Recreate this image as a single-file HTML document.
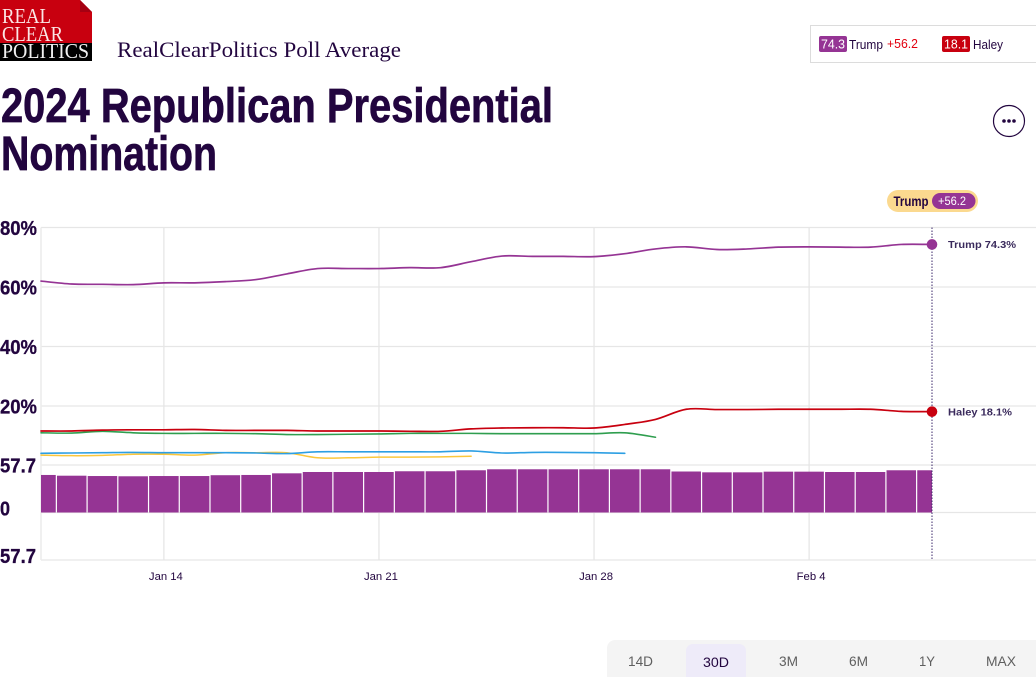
<!DOCTYPE html>
<html lang="en">
<head>
<meta charset="utf-8">
<title>2024 Republican Presidential Nomination</title>
<style>
html,body{margin:0;padding:0;background:#fff;width:1036px;height:677px;overflow:hidden}
svg{display:block}
text{font-family:"Liberation Sans",sans-serif}
.serif{font-family:"Liberation Serif",serif}
.tab{font-size:14px;fill:#5f5f5f}
</style>
</head>
<body>
<svg id="page" xmlns="http://www.w3.org/2000/svg" width="1036" height="677" viewBox="0 0 1036 677">
  <g>
    <rect x="0" y="0" width="92" height="43" fill="#c8000f"/>
    <rect x="0" y="43" width="92" height="18" fill="#000"/>
    <polygon points="80,0 92,0 92,12" fill="#fff"/>
    <polygon points="80,0 92,12 80,12" fill="#a50012"/>
    <text class="serif" x="2" y="23" font-size="21" fill="#fbe6e6" textLength="49" lengthAdjust="spacingAndGlyphs">REAL</text>
    <text class="serif" x="2" y="41" font-size="21" fill="#fbe6e6" textLength="61" lengthAdjust="spacingAndGlyphs">CLEAR</text>
    <text class="serif" x="2" y="58" font-size="21" fill="#f0f0f0" textLength="87" lengthAdjust="spacingAndGlyphs">POLITICS</text>
  </g>
  <text class="serif" x="117" y="57" font-size="22" fill="#22053f" textLength="284" lengthAdjust="spacingAndGlyphs">RealClearPolitics Poll Average</text>
  <text x="1" y="122" font-size="48" font-weight="700" fill="#22053f" stroke="#22053f" stroke-width="0.7" textLength="552" lengthAdjust="spacingAndGlyphs">2024 Republican Presidential</text>
  <text x="1" y="170" font-size="48" font-weight="700" fill="#22053f" stroke="#22053f" stroke-width="0.7" textLength="216" lengthAdjust="spacingAndGlyphs">Nomination</text>

  <g>
    <rect x="810.5" y="25.5" width="230" height="37" fill="#fff" stroke="#dcdcdc"/>
    <rect x="819" y="36" width="28" height="16" rx="2" fill="#953494"/>
    <text x="833" y="48.5" font-size="13" fill="#fff" text-anchor="middle" textLength="24" lengthAdjust="spacingAndGlyphs">74.3</text>
    <text x="849" y="49" font-size="12.5" fill="#22053f" textLength="34" lengthAdjust="spacingAndGlyphs">Trump</text>
    <text x="887" y="48" font-size="12.5" fill="#e3000f" textLength="31" lengthAdjust="spacingAndGlyphs">+56.2</text>
    <rect x="942" y="36" width="28" height="16" rx="2" fill="#c8000f"/>
    <text x="956" y="48.5" font-size="13" fill="#fff" text-anchor="middle" textLength="24" lengthAdjust="spacingAndGlyphs">18.1</text>
    <text x="973" y="49" font-size="12.5" fill="#22053f" textLength="30" lengthAdjust="spacingAndGlyphs">Haley</text>
  </g>

  <g>
    <circle cx="1009" cy="121" r="15.5" fill="#fff" stroke="#22053f" stroke-width="1.2"/>
    <circle cx="1004" cy="121" r="1.8" fill="#22053f"/>
    <circle cx="1009" cy="121" r="1.8" fill="#22053f"/>
    <circle cx="1014" cy="121" r="1.8" fill="#22053f"/>
  </g>

  <g>
    <rect x="887" y="190" width="91" height="22" rx="11" fill="#fbd98f"/>
    <text x="893.5" y="206" font-size="13.5" font-weight="700" fill="#22053f" textLength="35" lengthAdjust="spacingAndGlyphs">Trump</text>
    <rect x="932" y="193" width="43.5" height="16" rx="8" fill="#953494"/>
    <text x="938" y="205" font-size="12" fill="#fff" textLength="28" lengthAdjust="spacingAndGlyphs">+56.2</text>
  </g>

  <g id="chart"></g>

  <g>
    <path d="M607 677V648a8 8 0 0 1 8-8H1036V677Z" fill="#f4f4f4"/>
    <path d="M686 677V651a7 7 0 0 1 7-7H739a7 7 0 0 1 7 7V677Z" fill="#eeebf9"/>
    <text class="tab" x="628" y="666" textLength="25" lengthAdjust="spacingAndGlyphs">14D</text>
    <text class="tab" x="703" y="667" textLength="26" lengthAdjust="spacingAndGlyphs" style="fill:#22053f">30D</text>
    <text class="tab" x="779" y="666" textLength="19" lengthAdjust="spacingAndGlyphs">3M</text>
    <text class="tab" x="849" y="666" textLength="19" lengthAdjust="spacingAndGlyphs">6M</text>
    <text class="tab" x="919" y="666" textLength="16" lengthAdjust="spacingAndGlyphs">1Y</text>
    <text class="tab" x="986" y="666" textLength="30" lengthAdjust="spacingAndGlyphs">MAX</text>
  </g>
</svg>

<script>
const dates = ['Jan 10','Jan 11','Jan 12','Jan 13','Jan 14','Jan 15','Jan 16','Jan 17','Jan 18','Jan 19','Jan 20','Jan 21','Jan 22','Jan 23','Jan 24','Jan 25','Jan 26','Jan 27','Jan 28','Jan 29','Jan 30','Jan 31','Feb 1','Feb 2','Feb 3','Feb 4','Feb 5','Feb 6','Feb 7','Feb 8'];
const xTickLabels = ['Jan 14','Jan 21','Jan 28','Feb 4'];
const pollTicks = [80,60,40,20];
const pollTickLabels = ['80%','60%','40%','20%'];
const spreadTicks = [57.7,0,-57.7];
const spreadTickLabels = ['57.7','0','57.7'];
const trump = [62.0,61.0,60.9,60.8,61.4,61.4,61.8,62.5,64.4,66.2,66.2,66.2,66.5,66.5,68.5,70.4,70.3,70.3,70.2,71.2,72.8,73.5,72.6,72.8,73.4,73.5,73.4,73.4,74.3,74.3];
const haley = [11.6,11.6,11.9,12.0,12.0,12.1,11.8,11.8,11.8,11.6,11.6,11.6,11.5,11.5,12.3,12.6,12.7,12.7,12.6,13.8,15.5,18.9,18.8,18.8,18.9,18.9,18.9,18.9,18.2,18.1];
const greenSeries = [11.0,10.9,11.5,11.0,10.8,10.8,10.8,10.7,10.4,10.4,10.5,10.6,10.8,10.8,10.8,10.7,10.7,10.7,10.7,11.0,9.5];
const blueSeries = [4.1,4.2,4.3,4.4,4.3,4.3,4.3,4.2,4.0,4.6,4.6,4.6,4.6,4.6,4.9,4.2,4.4,4.4,4.3,4.1];
const yellowSeries = [3.5,3.3,3.4,3.8,3.8,3.5,4.3,4.3,4.3,2.6,2.6,2.8,2.8,2.9,3.1];
const spread = [45.6,44.7,44.3,44.0,44.3,44.3,45.3,45.6,47.6,49.2,49.2,49.2,50.1,50.1,51.3,52.5,52.5,52.5,52.5,52.5,52.5,49.8,48.8,48.8,49.6,49.6,49.2,49.2,51.3,51.3];
const trumpLabel = 'Trump 74.3%';
const haleyLabel = 'Haley 18.1%';

const plotLeft = 41, plotRight = 932, plotEdge = 1036, plotTop = 227.5, plotBottom = 560;
const step = (plotRight - plotLeft) / (dates.length - 1);
function x(i){ return plotLeft + i * step; }
function y(v){ return 465.5 - 2.975 * v; }
function ys(v){ return 512.5 - v * 47.5 / 57.7; }

const chart = document.getElementById('chart');
const NS = 'http://www.w3.org/2000/svg';
function make(tag, attrs, txt){
  const n = document.createElementNS(NS, tag);
  for (const k in attrs) n.setAttribute(k, attrs[k]);
  if (txt !== undefined) n.textContent = txt;
  chart.appendChild(n);
  return n;
}
function smooth(vals){
  const p = vals.map((v,i)=>[x(i), y(v)]);
  let d = 'M' + p[0][0].toFixed(2) + ' ' + p[0][1].toFixed(2);
  for (let i = 0; i < p.length - 1; i++){
    const a = p[Math.max(i-1,0)], b = p[i], c = p[i+1], e = p[Math.min(i+2,p.length-1)];
    const c1x = b[0] + (c[0]-a[0])/6, c1y = b[1] + (c[1]-a[1])/6;
    const c2x = c[0] - (e[0]-b[0])/6, c2y = c[1] - (e[1]-b[1])/6;
    d += 'C' + [c1x,c1y,c2x,c2y,c[0],c[1]].map(n=>n.toFixed(2)).join(' ');
  }
  return d;
}

pollTicks.forEach((t,i)=>{
  const g = make('line',{x1:plotLeft,x2:plotEdge,y1:y(t),y2:y(t),stroke:'#e6e6e6','stroke-width':1.3});
  
  
  const l = make('text',{x:0,y:y(t)+7.3,'font-size':20,'font-weight':700,fill:'#22053f',stroke:'#22053f','stroke-width':0.3,textLength:37,lengthAdjust:'spacingAndGlyphs'},pollTickLabels[i]);
  
  
});
spreadTicks.forEach((t,i)=>{
  const g = make('line',{x1:plotLeft,x2:plotEdge,y1:ys(t),y2:ys(t),stroke:'#e6e6e6','stroke-width':1.3});
  
  
  const txt = spreadTickLabels[i];
  const l = make('text',{x:0,y:ys(t)+(i===0?7.3:3),'font-size':20,'font-weight':700,fill:'#22053f',stroke:'#22053f','stroke-width':0.3,textLength:txt.length===1?10:36,lengthAdjust:'spacingAndGlyphs'},txt);
  
  
});

const leftAxis = make('line',{x1:plotLeft,x2:plotLeft,y1:plotTop,y2:plotBottom,stroke:'#ececec','stroke-width':1.5});



xTickLabels.forEach(lbl=>{
  const i = dates.indexOf(lbl);
  const g = make('line',{x1:x(i),x2:x(i),y1:plotTop,y2:plotBottom,stroke:'#e6e6e6','stroke-width':1.3});
  
  
  const t = make('text',{x:x(i)+2,y:580,'font-size':11.3,fill:'#22053f','text-anchor':'middle'},lbl);
  
  
});

spread.forEach((v,i)=>{
  const x0 = Math.max(plotLeft, x(i) - step/2 + 0.6);
  const x1 = Math.min(plotRight, x(i) + step/2 - 0.6);
  const b = make('rect',{x:x0,y:ys(v),width:x1-x0,height:ys(0)-ys(v),fill:'#953494'});
  
  
});

const seriesList = [
  [yellowSeries,'#fbc73c','yellow-candidate-line',1.5],
  [blueSeries,'#2d9fe3','blue-candidate-line',1.6],
  [greenSeries,'#2f9e4f','green-candidate-line',1.6],
  [haley,'#c8000f','haley-line',1.7],
  [trump,'#953494','trump-line',1.7]
];
seriesList.forEach(s=>{
  const p = make('path',{d:smooth(s[0]),fill:'none',stroke:s[1],'stroke-width':s[3],'stroke-linecap':'round'});
  
  
});

const last = dates.length - 1;
const marker = make('line',{x1:x(last),x2:x(last),y1:plotTop,y2:plotBottom,stroke:'#3c2a6b','stroke-width':1,'stroke-dasharray':'1.5 1.5'});



const trumpDot = make('circle',{cx:x(last),cy:y(trump[last]),r:5.3,fill:'#953494'});


const haleyDot = make('circle',{cx:x(last),cy:y(haley[last]),r:5.3,fill:'#c8000f'});



const trumpEnd = make('text',{x:x(last)+16,y:y(trump[last])+3.7,'font-size':10.5,'font-weight':700,fill:'#3a2a5c',textLength:68,lengthAdjust:'spacingAndGlyphs'},trumpLabel);


const haleyEnd = make('text',{x:x(last)+16,y:y(haley[last])+3.7,'font-size':10.5,'font-weight':700,fill:'#3a2a5c',textLength:64,lengthAdjust:'spacingAndGlyphs'},haleyLabel);


</script>
</body>
</html>
